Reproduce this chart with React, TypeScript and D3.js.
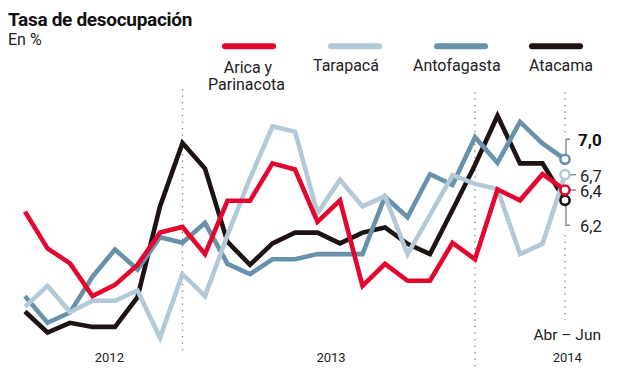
import React from "react";
import * as d3 from "d3";

// Rolling quarters (trimestres móviles), Abr–Jun 2012 to Abr–Jun 2014
const categories = [
  "AMJ 2012", "MJJ 2012", "JJA 2012", "JAS 2012", "ASO 2012", "SON 2012", "OND 2012",
  "NDE 2012", "DEF 2013", "EFM 2013", "FMA 2013", "MAM 2013", "AMJ 2013", "MJJ 2013",
  "JJA 2013", "JAS 2013", "ASO 2013", "SON 2013", "OND 2013", "NDE 2013", "DEF 2014",
  "EFM 2014", "FMA 2014", "MAM 2014", "AMJ 2014",
];

const arica = [5.98, 5.26, 4.97, 4.33, 4.55, 4.94, 5.57, 5.68, 5.15, 6.19, 6.19, 6.92, 6.8, 5.78, 6.2, 4.53, 4.96, 4.63, 4.63, 5.37, 5.05, 6.41, 6.2, 6.71, 6.4];
const tarapaca = [4.12, 4.53, 4.02, 4.24, 4.24, 4.44, 3.52, 4.76, 4.33, 5.52, 6.63, 7.64, 7.54, 5.95, 6.6, 6.08, 6.28, 5.15, 5.91, 6.69, 6.52, 6.42, 5.15, 5.35, 6.7];
const antofagasta = [4.33, 3.81, 4.01, 4.71, 5.24, 4.85, 5.48, 5.37, 5.76, 4.96, 4.76, 5.05, 5.05, 5.15, 5.15, 5.15, 6.27, 5.87, 6.71, 6.5, 7.43, 6.93, 7.73, 7.31, 7.0];
const atacama = [4.03, 3.62, 3.81, 3.73, 3.73, 4.31, 6.08, 7.32, 6.82, 5.39, 4.94, 5.36, 5.57, 5.57, 5.36, 5.57, 5.67, 5.35, 5.15, 6.01, 6.89, 7.85, 6.92, 6.92, 6.2];

const seriesNames = ["Arica y Parinacota", "Tarapacá", "Antofagasta", "Atacama"];
const yearLabels = ["2012", "2013", "2014"];
const yearLabelAt = [3.75, 13.6, 24.1];
const dividerAt = [7, 20];
const periodLabel = "Abr – Jun";
const title = "Tasa de desocupación";
const subtitle = "En %";

const COLORS: Record<string, string> = {
  "Arica y Parinacota": "#e3072f",
  "Tarapacá": "#b4c9d8",
  "Antofagasta": "#6892ab",
  "Atacama": "#1c1312",
};

const FONT = "Roboto, 'Open Sans', sans-serif";

export default function App() {
  const values: Record<string, number[]> = {
    "Arica y Parinacota": arica,
    "Tarapacá": tarapaca,
    "Antofagasta": antofagasta,
    "Atacama": atacama,
  };

  const x = d3.scaleLinear().domain([0, categories.length - 1]).range([25, 565]);
  const y = d3.scaleLinear().domain([3, 8]).range([364.3, 108.05]);

  const line = d3
    .line<number>()
    .x((_, i) => x(i))
    .y((d) => y(d));

  const drawOrder = ["Atacama", "Antofagasta", "Tarapacá", "Arica y Parinacota"];
  const last = categories.length - 1;
  const fmt = (v: number) => d3.format(".1f")(v).replace(".", ",");

  const endY = (name: string) => y(values[name][last]);
  const xe = x(last);

  return (
    <svg
      width={620}
      height={381}
      style={{ position: "absolute", left: 0, top: 0, background: "#fff" }}
      fontFamily={FONT}
    >
      <rect width={620} height={381} fill="#fff" />
      {/* Title */}
      <text x={8} y={26} fontSize={19} fontWeight={700} fill="#111" letterSpacing={-0.3}>
        {title}
      </text>
      <text x={8} y={45} fontSize={16} fill="#222">
        {subtitle}
      </text>

      {/* Legend */}
      {seriesNames.map((name, i) => {
        const lx = [225, 331, 437, 532][i];
        return (
          <line
            key={name}
            x1={lx}
            x2={lx + 48}
            y1={46.3}
            y2={46.3}
            stroke={COLORS[name]}
            strokeWidth={6}
            strokeLinecap="round"
          />
        );
      })}
      <text x={248} y={72.5} fontSize={16} fill="#222" textAnchor="middle">Arica y</text>
      <text x={246.5} y={90} fontSize={16} fill="#222" textAnchor="middle">Parinacota</text>
      <text x={313} y={71} fontSize={16} fill="#222">{seriesNames[1]}</text>
      <text x={413} y={71} fontSize={16} fill="#222">{seriesNames[2]}</text>
      <text x={529} y={71} fontSize={16} fill="#222">{seriesNames[3]}</text>

      {/* Divider dotted lines */}
      {dividerAt.map((d, i) => (
        <line
          key={"div" + d}
          x1={x(d)}
          x2={x(d)}
          y1={i === 0 ? 89 : 92}
          y2={i === 0 ? 352 : 370}
          stroke="#777"
          strokeWidth={1.3}
          strokeDasharray="1.3 5.2"
        />
      ))}
      <line x1={xe} x2={xe} y1={92} y2={134} stroke="#777" strokeWidth={1.3} strokeDasharray="1.3 5.2" />
      <line x1={xe} x2={xe} y1={235} y2={320} stroke="#777" strokeWidth={1.3} strokeDasharray="1.3 5.2" />

      {/* Lines */}
      {drawOrder.map((name) => (
        <path
          key={name}
          d={line(values[name]) || ""}
          fill="none"
          stroke={COLORS[name]}
          strokeWidth={4.6}
          strokeLinejoin="miter"
          strokeMiterlimit={3}
        />
      ))}

      {/* End brackets */}
      <polyline
        points={`${xe + 1},${endY("Antofagasta") - 5} ${xe + 1},${endY("Antofagasta") - 20} ${xe + 5},${endY("Antofagasta") - 20}`}
        fill="none"
        stroke="#888"
        strokeWidth={1.4}
      />
      <line x1={xe + 5} x2={xe + 11} y1={endY("Tarapacá")} y2={endY("Tarapacá")} stroke="#888" strokeWidth={1.4} />
      <line x1={xe + 5} x2={xe + 11} y1={endY("Arica y Parinacota")} y2={endY("Arica y Parinacota")} stroke="#888" strokeWidth={1.4} />
      <polyline
        points={`${xe + 1},${endY("Atacama") + 5} ${xe + 1},${endY("Atacama") + 25} ${xe + 5},${endY("Atacama") + 25}`}
        fill="none"
        stroke="#888"
        strokeWidth={1.4}
      />

      {/* End circles */}
      {drawOrder.map((name) => (
        <circle
          key={"c" + name}
          cx={xe}
          cy={endY(name)}
          r={4.6}
          fill="#fff"
          stroke={COLORS[name]}
          strokeWidth={2.6}
        />
      ))}

      {/* End labels */}
      <text x={578} y={endY("Antofagasta") - 19} dy="0.35em" fontSize={17} fontWeight={700} fill="#111">
        {fmt(antofagasta[last])}
      </text>
      <text x={580} y={endY("Tarapacá") + 1.5} dy="0.35em" fontSize={16.5} fill="#222">
        {fmt(tarapaca[last])}
      </text>
      <text x={580} y={endY("Arica y Parinacota") + 1.5} dy="0.35em" fontSize={16.5} fill="#222">
        {fmt(arica[last])}
      </text>
      <text x={580} y={endY("Atacama") + 25.5} dy="0.35em" fontSize={16.5} fill="#222">
        {fmt(atacama[last])}
      </text>

      {/* Period label */}
      <text x={601} y={340} fontSize={15.5} fill="#222" textAnchor="end">
        {periodLabel}
      </text>

      {/* Year labels */}
      {yearLabels.map((yr, i) => (
        <text key={yr} x={x(yearLabelAt[i])} y={361.5} fontSize={13} fill="#222" textAnchor="middle">
          {yr}
        </text>
      ))}
    </svg>
  );
}
